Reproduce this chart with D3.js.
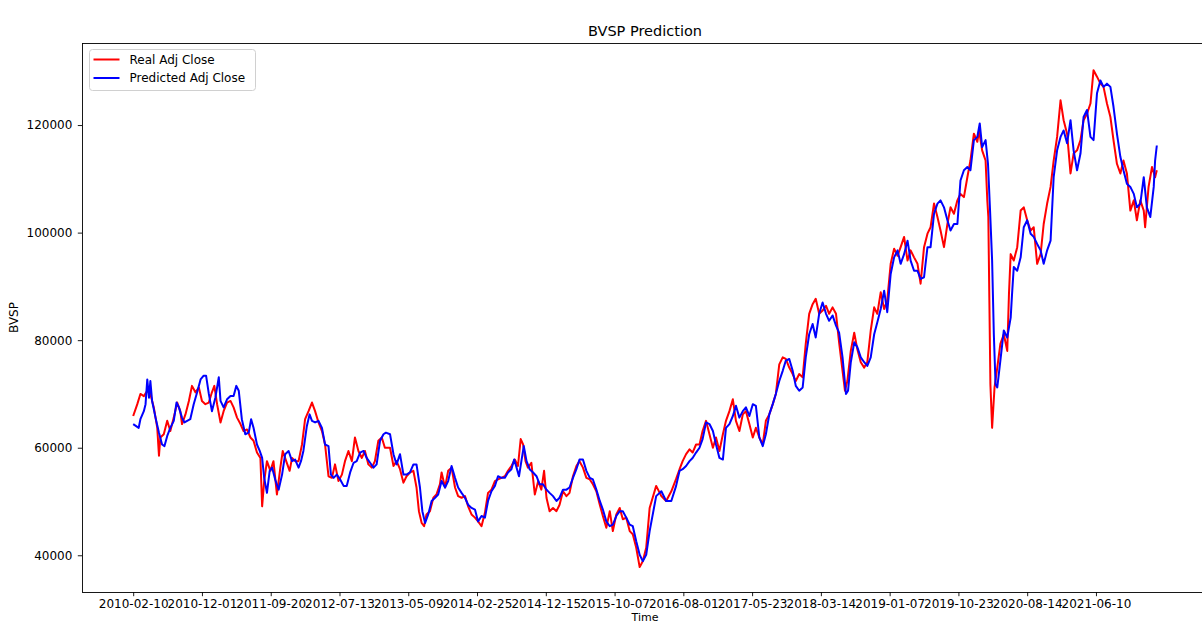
<!DOCTYPE html>
<html>
<head>
<meta charset="utf-8">
<script src="https://cdn.jsdelivr.net/npm/d3@7"></script>
<style>
  body { margin: 0; background: #fff; }
  text { font-family: "DejaVu Sans", sans-serif; fill: #000; }
</style>
</head>
<body>
<div id="chart"></div>
<script>
// x tick labels (every 200 trading rows)
const tickRows = [0, 200, 400, 600, 800, 1000, 1200, 1400, 1600, 1800, 2000, 2200, 2400, 2600, 2800];
const tickLabels = ['2010-02-10', '2010-12-01', '2011-09-20', '2012-07-13', '2013-05-09', '2014-02-25',
    '2014-12-15', '2015-10-07', '2016-08-01', '2017-05-23', '2018-03-14', '2019-01-07', '2019-10-23',
    '2020-08-14', '2021-06-10'];
const yTicks = [40000, 60000, 80000, 100000, 120000];
const lastRow = 2977;
const yRange = [33170, 135260];

// Real Adj Close, sampled [row, value]
const realAdj = [
    [0,65900],[12,68100],[21,70000],[31,69600],[41,70600],[50,70000],[60,67500],[70,63700],[75,58500],[79,61900],
    [89,62500],[99,65000],[108,63100],[118,65600],[128,68400],[137,66800],[142,64400],[152,66200],[162,68700],[171,71500],
    [181,70300],[191,71200],[200,68700],[210,68100],[220,68400],[229,70300],[236,71500],[244,68100],[254,64700],[263,66800],
    [273,68400],[283,68700],[292,67500],[302,65600],[312,64400],[321,63100],[331,63400],[341,61900],[350,61300],[360,59100],
    [370,58100],[375,49100],[381,53800],[389,57500],[399,55700],[408,57500],[418,51300],[428,56300],[435,59400],[445,57500],
    [455,55700],[462,58100],[471,57500],[481,57500],[491,60600],[500,65300],[510,66800],[520,68400],[529,66800],[539,64700],
    [549,63100],[558,60600],[568,54700],[578,54400],[587,56900],[597,53800],[607,55000],[616,57500],[626,59400],[636,57500],
    [645,61900],[655,59400],[665,58100],[674,59400],[684,56900],[694,56300],[703,57500],[713,61300],[723,61900],[732,60000],
    [747,60000],[757,56600],[766,57500],[776,56000],[786,53500],[795,54700],[805,55400],[815,55700],[824,52600],[831,48200],
    [839,46000],[846,45400],[853,47600],[863,48200],[873,50700],[882,51300],[892,53200],[897,55400],[907,52600],[916,55700],
    [926,56300],[936,52600],[945,51000],[955,50700],[965,51000],[974,49100],[984,47600],[994,47000],[1003,46300],[1013,45400],
    [1023,47900],[1032,51600],[1042,52200],[1052,53800],[1061,54100],[1071,54400],[1081,54700],[1090,55700],[1100,56600],[1110,57800],
    [1119,56600],[1127,61600],[1134,60600],[1141,57500],[1148,56300],[1158,57200],[1168,51300],[1178,53800],[1187,52200],[1195,55700],
    [1202,50700],[1211,48200],[1221,48800],[1231,48200],[1240,49400],[1250,51900],[1260,51000],[1269,51600],[1279,54700],[1289,56600],
    [1298,57500],[1308,56300],[1318,54400],[1328,54100],[1337,53200],[1347,51900],[1357,49400],[1366,47300],[1376,45100],[1386,48200],
    [1395,44500],[1405,47600],[1415,48800],[1424,46700],[1434,47000],[1444,44500],[1453,43900],[1463,41400],[1473,37800],[1482,38900],
    [1492,41400],[1502,48800],[1521,52900],[1536,51000],[1550,50100],[1565,51900],[1579,54200],[1589,56000],[1598,57500],[1608,58800],
    [1618,59700],[1627,59100],[1637,60600],[1647,60600],[1656,63100],[1666,65000],[1676,62500],[1686,60000],[1695,61900],[1705,59400],
    [1715,62500],[1724,65000],[1734,66800],[1744,69000],[1753,65000],[1763,63100],[1773,66200],[1782,66800],[1792,64400],[1802,61900],
    [1811,63700],[1821,61900],[1831,60600],[1840,65000],[1850,66200],[1860,68100],[1869,70000],[1879,75500],[1889,76800],[1898,76500],
    [1908,74900],[1918,73700],[1927,72400],[1937,73700],[1947,73100],[1956,79300],[1966,84900],[1976,86700],[1985,87700],[1995,84900],
    [2005,85500],[2015,86400],[2024,84900],[2034,86100],[2044,84900],[2053,79600],[2063,74300],[2070,70600],[2077,72400],[2087,78000],
    [2097,81400],[2106,78300],[2116,75900],[2126,74900],[2135,75900],[2145,81800],[2155,86100],[2164,84900],[2174,88900],[2184,85800],
    [2193,87400],[2203,94200],[2213,97000],[2223,95700],[2232,97300],[2242,99200],[2252,94800],[2261,96700],[2271,95400],[2281,94200],
    [2290,90500],[2300,97300],[2310,99800],[2319,101000],[2329,105400],[2339,102900],[2348,100400],[2358,97300],[2368,101600],[2377,104700],
    [2387,103500],[2397,106000],[2406,107200],[2416,106600],[2426,110300],[2435,113400],[2445,118400],[2455,116900],[2460,119000],[2469,115300],
    [2479,113400],[2484,106000],[2487,102900],[2490,87400],[2493,71800],[2498,63700],[2505,71200],[2513,74900],[2522,79300],[2532,81100],
    [2542,78000],[2547,88600],[2552,96000],[2561,94800],[2571,97300],[2581,104100],[2590,104700],[2600,102300],[2610,100400],[2619,101000],
    [2629,94200],[2639,96000],[2648,101600],[2658,105400],[2668,108500],[2677,113400],[2687,117800],[2697,124600],[2706,120900],[2716,118400],
    [2726,111000],[2735,114700],[2745,115300],[2755,117200],[2764,120900],[2774,122100],[2784,124000],[2793,130200],[2803,129000],[2813,127700],
    [2822,127100],[2832,124000],[2842,121500],[2851,117200],[2861,112800],[2871,111000],[2880,113400],[2890,111000],[2900,104100],[2910,106000],
    [2919,102300],[2929,106000],[2939,104100],[2943,101000],[2953,108500],[2963,112200],[2972,110300],[2977,111600]
];

// Predicted Adj Close, sampled [row, value]
const predAdj = [
    [0,64400],[16,63700],[21,65300],[31,66800],[36,68100],[41,72700],[46,69300],[50,72400],[55,68700],[65,65600],
    [75,62800],[84,60600],[91,60300],[99,62200],[108,63700],[118,65000],[126,68400],[133,67500],[142,65600],[149,64700],
    [157,65000],[166,65300],[176,68100],[186,70300],[196,72700],[205,73400],[212,73400],[220,70000],[229,66800],[239,69300],
    [249,73100],[254,68700],[263,67500],[273,69000],[283,69600],[292,69600],[300,71500],[307,70600],[316,65300],[326,62500],
    [336,62800],[343,65300],[350,63700],[360,60600],[368,59400],[375,58100],[381,54400],[389,51600],[397,55700],[404,56300],
    [413,54100],[423,52200],[433,55000],[442,58800],[452,59400],[462,57500],[471,57800],[481,56300],[488,57500],[495,59400],
    [505,64000],[513,66200],[520,65000],[529,64700],[539,65000],[549,63700],[558,60600],[568,60300],[575,55000],[583,54400],
    [592,55000],[602,54100],[612,52900],[621,52900],[631,55400],[641,57200],[650,57500],[660,59100],[670,59400],[679,58100],
    [689,57200],[699,56300],[708,56900],[718,61300],[728,62500],[735,62800],[747,62500],[757,58800],[766,56900],[776,58800],
    [786,55000],[795,55000],[805,55400],[815,56900],[824,56900],[834,52600],[841,48200],[849,46000],[858,47600],[868,50100],
    [878,50700],[887,51300],[897,53800],[907,52600],[916,53800],[926,56600],[936,54400],[945,52600],[955,51600],[965,50700],
    [974,49400],[984,48800],[994,48500],[1003,46300],[1013,47300],[1023,47000],[1032,50100],[1042,51900],[1052,52900],[1061,54700],
    [1071,54400],[1081,54400],[1090,55400],[1100,56000],[1108,57800],[1115,56300],[1122,54700],[1129,57500],[1136,60300],[1144,57500],
    [1153,56000],[1163,55400],[1173,54700],[1182,53200],[1192,53200],[1202,52200],[1211,51600],[1221,51000],[1231,50100],[1240,50700],
    [1250,52200],[1260,52200],[1269,52600],[1279,54400],[1289,56000],[1298,57800],[1308,57800],[1318,55700],[1328,54400],[1337,54100],
    [1347,52200],[1357,50100],[1366,48500],[1376,46300],[1386,45400],[1395,45700],[1405,47300],[1415,48200],[1424,48200],[1434,47000],
    [1444,45700],[1453,45400],[1463,42600],[1473,40100],[1482,38900],[1492,40100],[1502,44500],[1521,51000],[1536,51900],[1550,50100],
    [1565,50100],[1579,52900],[1589,55700],[1598,56000],[1608,56600],[1618,57500],[1627,58100],[1637,59100],[1647,60000],[1656,61600],
    [1666,64700],[1676,64400],[1686,63100],[1695,60600],[1705,58100],[1715,57800],[1724,63700],[1734,64400],[1744,65900],[1753,67800],
    [1763,65600],[1773,66800],[1782,67500],[1792,65900],[1802,68100],[1811,67800],[1821,61900],[1831,60300],[1840,62500],[1850,66200],
    [1860,68100],[1869,70000],[1879,72400],[1889,74300],[1898,76200],[1908,76500],[1918,74300],[1927,71500],[1937,70600],[1947,71200],
    [1956,76800],[1966,81100],[1976,83000],[1985,80500],[1995,84900],[2005,87000],[2015,84900],[2024,83600],[2034,84600],[2044,82700],
    [2053,81400],[2063,76800],[2073,70000],[2079,70600],[2087,75900],[2097,79600],[2106,78700],[2116,76800],[2126,75900],[2135,75200],
    [2145,76800],[2155,81100],[2164,83300],[2174,85800],[2184,89200],[2193,85200],[2203,92300],[2213,95400],[2223,96700],[2232,94200],
    [2242,96000],[2252,98500],[2261,94800],[2271,92900],[2281,92900],[2290,91400],[2300,91700],[2310,97300],[2319,97300],[2329,103500],
    [2339,105400],[2348,106000],[2358,104700],[2368,102300],[2377,100400],[2387,101600],[2397,101600],[2406,109700],[2416,111600],[2426,112200],
    [2435,111600],[2445,117200],[2455,117800],[2462,120300],[2469,115900],[2479,117200],[2486,112800],[2492,104100],[2498,94800],[2503,81100],
    [2508,71800],[2513,71200],[2522,76200],[2532,81800],[2542,80500],[2552,84200],[2556,88600],[2561,93600],[2571,92900],[2581,95400],
    [2590,101000],[2600,102300],[2610,99800],[2619,99200],[2629,97900],[2639,96700],[2648,94200],[2658,96700],[2668,98500],[2677,110300],
    [2687,115300],[2697,117800],[2706,119000],[2716,116600],[2726,120900],[2735,115300],[2745,111600],[2755,114700],[2764,121500],[2774,122800],
    [2784,117800],[2793,117200],[2803,125900],[2813,128300],[2822,127100],[2832,127700],[2842,127100],[2851,123400],[2861,118400],[2871,114100],
    [2880,111600],[2890,109100],[2900,108500],[2910,107200],[2919,104700],[2929,105400],[2939,110300],[2948,104700],[2958,102900],[2968,108500],
    [2972,113400],[2977,116200]
];

const width = 1202;
const height = 625;
const margin = {left: 82, top: 43, right: 1208, bottom: 592};

const svg = d3.select('#chart').append('svg')
    .attr('width', width)
    .attr('height', height)
    .style('display', 'block');

svg.append('rect').attr('width', width).attr('height', height).attr('fill', '#fff');

// matplotlib style 5% margins on x
const x = d3.scaleLinear()
    .domain([-0.05 * lastRow, 1.05 * lastRow])
    .range([margin.left, margin.right]);

const y = d3.scaleLinear()
    .domain(yRange)
    .range([margin.bottom, margin.top]);

const plot = svg.append('g');

plot.append('defs').append('clipPath').attr('id', 'clip')
    .append('rect')
    .attr('x', margin.left).attr('y', margin.top)
    .attr('width', margin.right - margin.left).attr('height', margin.bottom - margin.top);

const line = d3.line()
    .x(d => x(d[0]))
    .y(d => y(d[1]));

plot.append('path')
    .datum(realAdj)
    .attr('d', line)
    .attr('fill', 'none')
    .attr('stroke', 'red')
    .attr('stroke-width', 2)
    .attr('stroke-linejoin', 'round')
    .attr('clip-path', 'url(#clip)');

plot.append('path')
    .datum(predAdj)
    .attr('d', line)
    .attr('fill', 'none')
    .attr('stroke', 'blue')
    .attr('stroke-width', 2)
    .attr('stroke-linejoin', 'round')
    .attr('clip-path', 'url(#clip)');

// axes
const xAxis = d3.axisBottom(x)
    .tickValues(tickRows)
    .tickFormat((d, i) => tickLabels[i])
    .tickSizeInner(4.2)
    .tickSizeOuter(0)
    .tickPadding(3.5);

const gx = svg.append('g')
    .attr('transform', `translate(0, ${margin.bottom})`)
    .call(xAxis);
gx.select('.domain').remove();
gx.selectAll('line').attr('stroke', '#000').attr('stroke-width', 0.9);
gx.selectAll('text').style('font-size', '12px').attr('fill', '#000');

const yAxis = d3.axisLeft(y)
    .tickValues(yTicks)
    .tickFormat(d3.format('d'))
    .tickSizeInner(4.2)
    .tickSizeOuter(0)
    .tickPadding(5.5);

const gy = svg.append('g')
    .attr('transform', `translate(${margin.left}, 0)`)
    .call(yAxis);
gy.select('.domain').remove();
gy.selectAll('line').attr('stroke', '#000').attr('stroke-width', 0.9);
gy.selectAll('text').style('font-size', '12px').attr('fill', '#000');

// frame
svg.append('rect')
    .attr('x', margin.left + 0.5)
    .attr('y', margin.top + 0.5)
    .attr('width', margin.right - margin.left)
    .attr('height', margin.bottom - margin.top)
    .attr('fill', 'none')
    .attr('stroke', '#000')
    .attr('stroke-width', 0.9);

// titles
svg.append('text').text('BVSP Prediction')
    .attr('x', (margin.left + margin.right) / 2).attr('y', 36)
    .attr('text-anchor', 'middle').style('font-size', '14.5px');

svg.append('text').text('Time')
    .attr('x', (margin.left + margin.right) / 2).attr('y', 621)
    .attr('text-anchor', 'middle').style('font-size', '11px');

svg.append('text').text('BVSP')
    .attr('transform', `translate(18, ${(margin.top + margin.bottom) / 2}) rotate(-90)`)
    .attr('text-anchor', 'middle').style('font-size', '12px');

// legend
const legend = svg.append('g').attr('transform', 'translate(89.5, 49.5)');
legend.append('rect')
    .attr('width', 166).attr('height', 41).attr('rx', 3)
    .attr('fill', '#fff').attr('fill-opacity', 0.8)
    .attr('stroke', '#d0d0d0').attr('stroke-width', 1);

const legendItems = [['Real Adj Close', 'red'], ['Predicted Adj Close', 'blue']];
legendItems.forEach((item, i) => {
    legend.append('line')
        .attr('x1', 4).attr('x2', 30)
        .attr('y1', 10 + i * 18.5).attr('y2', 10 + i * 18.5)
        .attr('stroke', item[1]).attr('stroke-width', 2);
    legend.append('text').text(item[0])
        .attr('x', 40).attr('y', 14.3 + i * 18.5)
        .style('font-size', '12px');
});
</script>
</body>
</html>
